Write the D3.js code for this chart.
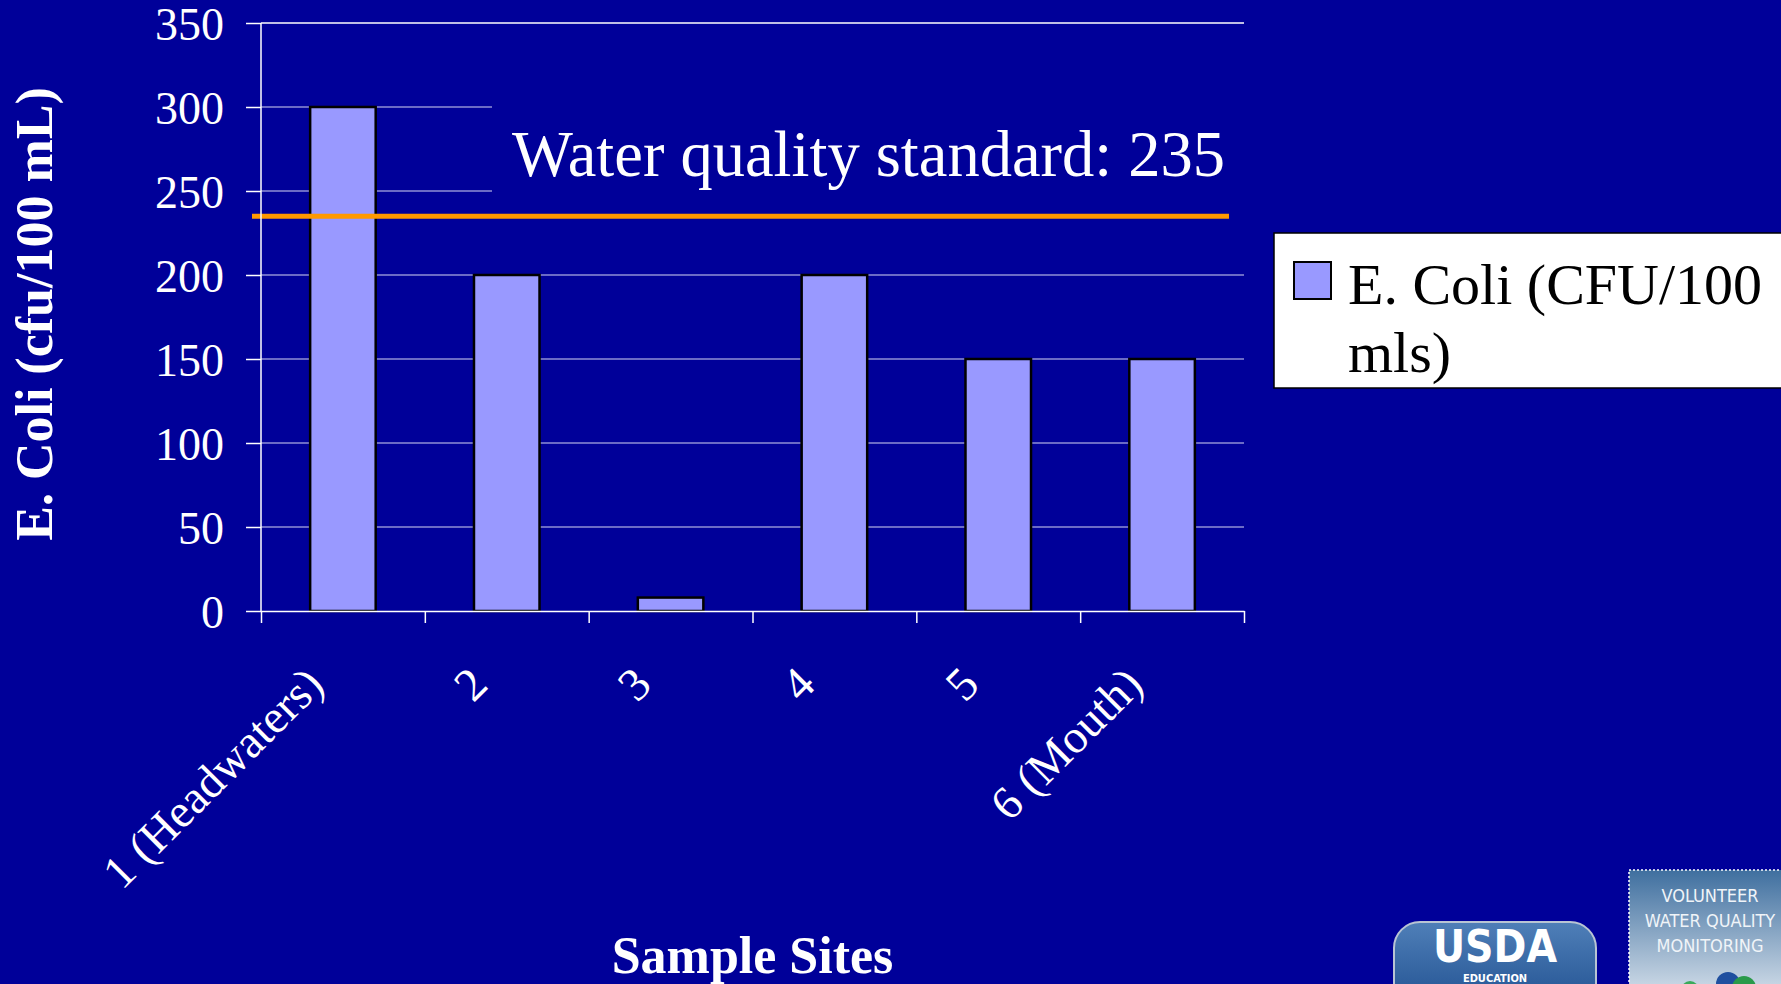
<!DOCTYPE html>
<html>
<head>
<meta charset="utf-8">
<script src="https://cdn.jsdelivr.net/npm/d3@7"></script>
<style>
  body { margin: 0; background: #000099; overflow: hidden; }
  text { font-family: "Liberation Serif", "Times New Roman", serif; }
</style>
</head>
<body>
<div id="chart"></div>
<script>
(function () {
  ///////////////////////////////////////////////////////////// ! Data
  const categories = ["1 (Headwaters)", "2", "3", "4", "5", "6 (Mouth)"];
  const ecoliValues = [300, 200, 8, 200, 150, 150];
  const yTickValues = [0, 50, 100, 150, 200, 250, 300, 350];
  const standardValue = 235;
  const standardLabel = "Water quality standard: 235";
  const legendLines = ["E. Coli (CFU/100", "mls)"];
  const yTitle = "E. Coli (cfu/100 mL)";
  const xTitle = "Sample Sites";

  ///////////////////////////////////////////////////////////// ! Setup
  const fullWidth = 1781;
  const fullHeight = 984;
  const plot = { left: 261, right: 1244, top: 23, bottom: 611 };

  const bg = "#000099";
  const barFill = "#9999ff";
  const gridColor = "#8f8fd6";

  const svg = d3
    .select("#chart")
    .append("svg")
    .attr("width", fullWidth)
    .attr("height", fullHeight)
    .style("display", "block");

  svg.append("rect").attr("width", fullWidth).attr("height", fullHeight).attr("fill", bg);

  ///////////////////////////////////////////////////////////// ! Scales
  const x = d3
    .scaleBand()
    .domain(categories)
    .range([plot.left, plot.right])
    .paddingInner(0.6)
    .paddingOuter(0.3);

  // boundaries between categories, for the tick marks
  const xEdge = d3.scaleLinear().domain([0, categories.length]).range([plot.left, plot.right]);

  const y = d3.scaleLinear().domain([0, 350]).range([plot.bottom, plot.top]);

  ///////////////////////////////////////////////////////////// ! Gridlines + y axis
  const yAxis = svg
    .append("g")
    .attr("transform", `translate(${plot.left},0)`)
    .call(
      d3.axisLeft(y)
        .tickValues(yTickValues)
        .tickSize(15)
        .tickPadding(22)
    );
  yAxis.select(".domain").remove();
  yAxis.selectAll(".tick line").attr("stroke", "#ffffff").attr("stroke-width", 1.5);
  yAxis
    .selectAll(".tick text")
    .attr("fill", "#ffffff")
    .attr("dy", "0.36em")
    .style("font-family", "Liberation Serif")
    .style("font-size", "46px");

  svg
    .append("g")
    .selectAll("line")
    .data(yTickValues.filter((d) => d > 0))
    .enter()
    .append("line")
    .attr("x1", plot.left)
    .attr("x2", plot.right)
    .attr("y1", (d) => y(d))
    .attr("y2", (d) => y(d))
    .attr("stroke", (d) => (d === 350 ? "#ffffff" : gridColor))
    .attr("stroke-width", 1.5);

  ///////////////////////////////////////////////////////////// ! Annotation box
  svg
    .append("rect")
    .attr("x", 492)
    .attr("y", 96)
    .attr("width", 770)
    .attr("height", 110)
    .attr("fill", bg);

  svg
    .append("text")
    .attr("x", 512)
    .attr("y", 176)
    .attr("fill", "#ffffff")
    .style("font-size", "64.5px")
    .text(standardLabel);

  ///////////////////////////////////////////////////////////// ! Bars
  svg
    .append("g")
    .selectAll("rect")
    .data(ecoliValues)
    .enter()
    .append("rect")
    .attr("x", (d, i) => x(categories[i]))
    .attr("y", (d) => y(d))
    .attr("width", x.bandwidth())
    .attr("height", (d) => y(0) - y(d))
    .attr("fill", barFill)
    .attr("stroke", "#000000")
    .attr("stroke-width", 2.5);

  ///////////////////////////////////////////////////////////// ! Standard line
  svg
    .append("line")
    .attr("x1", 252)
    .attr("x2", 1229)
    .attr("y1", y(standardValue))
    .attr("y2", y(standardValue))
    .attr("stroke", "#ff9900")
    .attr("stroke-width", 5);

  ///////////////////////////////////////////////////////////// ! Axes lines
  svg
    .append("line")
    .attr("x1", plot.left)
    .attr("x2", plot.left)
    .attr("y1", plot.top)
    .attr("y2", plot.bottom)
    .attr("stroke", "#ffffff")
    .attr("stroke-width", 1.5);

  const xAxis = svg
    .append("g")
    .attr("transform", `translate(0,${plot.bottom})`)
    .call(
      d3.axisBottom(xEdge)
        .tickValues(d3.range(categories.length + 1))
        .tickFormat("")
        .tickSize(12)
        .tickSizeOuter(0)
    );
  xAxis.selectAll(".domain, .tick line").attr("stroke", "#ffffff").attr("stroke-width", 1.5);

  // rotated category labels
  svg
    .append("g")
    .selectAll("text")
    .data(categories)
    .enter()
    .append("text")
    .attr("transform", (d) => `translate(${x(d) + x.bandwidth() / 2 - 17},${plot.bottom + 76}) rotate(-45)`)
    .attr("text-anchor", "end")
    .attr("fill", "#ffffff")
    .style("font-size", "47px")
    .text((d) => d);

  ///////////////////////////////////////////////////////////// ! Axis titles
  svg
    .append("text")
    .attr("transform", `translate(52,314) rotate(-90)`)
    .attr("text-anchor", "middle")
    .attr("fill", "#ffffff")
    .style("font-size", "52px")
    .style("font-weight", "bold")
    .text(yTitle);

  svg
    .append("text")
    .attr("x", (plot.left + plot.right) / 2)
    .attr("y", 973)
    .attr("text-anchor", "middle")
    .attr("fill", "#ffffff")
    .style("font-size", "52px")
    .style("font-weight", "bold")
    .text(xTitle);

  ///////////////////////////////////////////////////////////// ! Legend
  const legend = svg.append("g");
  legend
    .append("rect")
    .attr("x", 1274)
    .attr("y", 233)
    .attr("width", 560)
    .attr("height", 155)
    .attr("fill", "#ffffff")
    .attr("stroke", "#000000")
    .attr("stroke-width", 1.5);
  legend
    .append("rect")
    .attr("x", 1294)
    .attr("y", 262)
    .attr("width", 37)
    .attr("height", 37)
    .attr("fill", barFill)
    .attr("stroke", "#000000")
    .attr("stroke-width", 2);
  legend
    .selectAll("text.legend-line")
    .data(legendLines)
    .enter()
    .append("text")
    .attr("class", "legend-line")
    .attr("x", 1348)
    .attr("y", (d, i) => 304 + i * 68)
    .attr("fill", "#000000")
    .style("font-size", "58px")
    .text((d) => d);

  ///////////////////////////////////////////////////////////// ! Logos (rough sketch)
  const defs = svg.append("defs");
  const g1 = defs.append("linearGradient").attr("id", "usdaGrad").attr("x1", 0).attr("y1", 0).attr("x2", 0).attr("y2", 1);
  g1.append("stop").attr("offset", "0%").attr("stop-color", "#4f7fb8");
  g1.append("stop").attr("offset", "100%").attr("stop-color", "#1f4f8f");
  const g2 = defs.append("linearGradient").attr("id", "vwqmGrad").attr("x1", 0).attr("y1", 0).attr("x2", 0).attr("y2", 1);
  g2.append("stop").attr("offset", "0%").attr("stop-color", "#3f6f9f");
  g2.append("stop").attr("offset", "100%").attr("stop-color", "#d8e2ec");

  svg
    .append("rect")
    .attr("x", 1394)
    .attr("y", 922)
    .attr("width", 202)
    .attr("height", 90)
    .attr("rx", 26)
    .attr("fill", "url(#usdaGrad)")
    .attr("stroke", "#b8c4d4")
    .attr("stroke-width", 2);
  svg
    .append("text")
    .attr("x", 1495)
    .attr("y", 962)
    .attr("text-anchor", "middle")
    .attr("fill", "#ffffff")
    .style("font-family", "DejaVu Sans Condensed")
    .style("font-weight", "bold")
    .style("font-size", "44px")
    .text("USDA");
  svg
    .append("text")
    .attr("x", 1495)
    .attr("y", 982)
    .attr("text-anchor", "middle")
    .attr("fill", "#ffffff")
    .style("font-family", "DejaVu Sans Condensed")
    .style("font-weight", "bold")
    .style("font-size", "11px")
    .text("EDUCATION");

  svg
    .append("rect")
    .attr("x", 1629)
    .attr("y", 870)
    .attr("width", 170)
    .attr("height", 130)
    .attr("fill", "url(#vwqmGrad)")
    .attr("stroke", "#ffffff")
    .attr("stroke-width", 1.5)
    .attr("stroke-dasharray", "2,2");
  const vwqm = ["VOLUNTEER", "WATER QUALITY", "MONITORING"];
  svg
    .append("g")
    .selectAll("text")
    .data(vwqm)
    .enter()
    .append("text")
    .attr("x", 1710)
    .attr("y", (d, i) => 902 + i * 25)
    .attr("text-anchor", "middle")
    .attr("fill", "#f0f4f8")
    .style("font-family", "DejaVu Sans Condensed")
    .style("font-size", "18px")
    .text((d) => d);
  svg.append("circle").attr("cx", 1728).attr("cy", 984).attr("r", 12).attr("fill", "#1f4f9f");
  svg.append("circle").attr("cx", 1744).attr("cy", 988).attr("r", 12).attr("fill", "#2a9a4a");
  svg.append("circle").attr("cx", 1690).attr("cy", 990).attr("r", 9).attr("fill", "#3aaa5a");
})();
</script>
</body>
</html>
